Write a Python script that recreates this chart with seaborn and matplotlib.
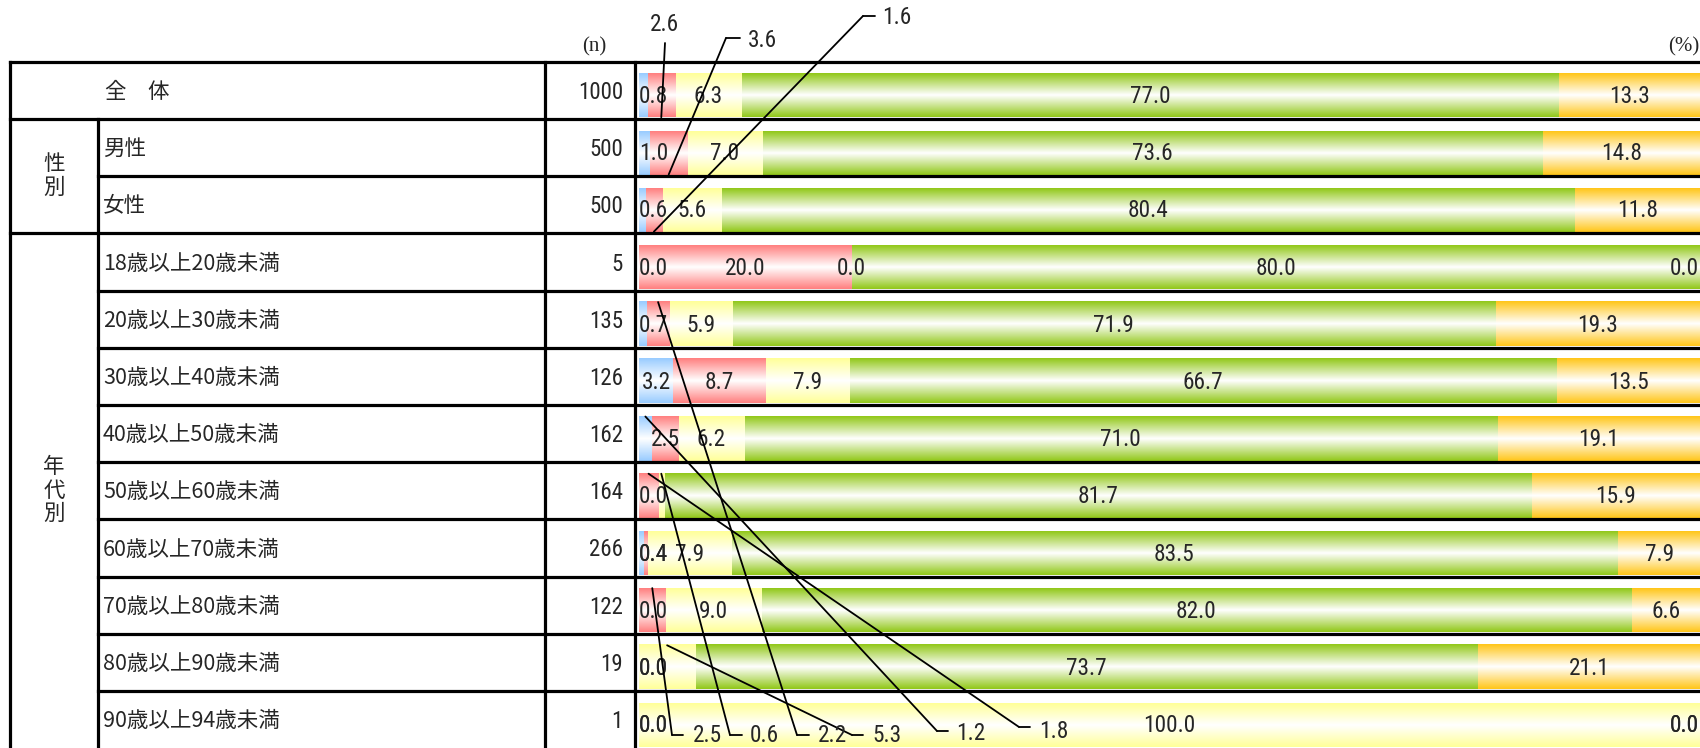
import numpy as np
import pandas as pd
import matplotlib
matplotlib.use("Agg")
import matplotlib.pyplot as plt
import seaborn as sns
from matplotlib import font_manager

# ---------------- data ----------------
rows = ["全　体", "男性", "女性",
        "18歳以上20歳未満", "20歳以上30歳未満", "30歳以上40歳未満",
        "40歳以上50歳未満", "50歳以上60歳未満", "60歳以上70歳未満",
        "70歳以上80歳未満", "80歳以上90歳未満", "90歳以上94歳未満"]
n_values = [1000, 500, 500, 5, 135, 126, 162, 164, 266, 122, 19, 1]
s1 = [0.8, 1.0, 0.6, 0.0, 0.7, 3.2, 1.2, 0.0, 0.4, 0.0, 0.0, 0.0]
s2 = [2.6, 3.6, 1.6, 20.0, 2.2, 8.7, 2.5, 1.8, 0.4, 2.5, 0.0, 0.0]
s3 = [6.3, 7.0, 5.6, 0.0, 5.9, 7.9, 6.2, 0.6, 7.9, 9.0, 5.3, 100.0]
s4 = [77.0, 73.6, 80.4, 80.0, 71.9, 66.7, 71.0, 81.7, 83.5, 82.0, 73.7, 0.0]
s5 = [13.3, 14.8, 11.8, 0.0, 19.3, 13.5, 19.1, 15.9, 7.9, 6.6, 21.1, 0.0]
series = [s1, s2, s3, s4, s5]
group_labels = [("性別", 1, 2), ("年代別", 3, 11)]

# ---------------- style ----------------
colors = ["#99CCFF", "#FF8080", "#FFFF99", "#92C81A", "#FFC61A"]
names = {f.name for f in font_manager.fontManager.ttflist}
NUM = "Roboto Condensed"
for cand in ["Roboto Condensed", "Archivo Narrow", "PT Sans Narrow", "Liberation Sans"]:
    if cand in names:
        NUM = cand
        break
JP = "Noto Sans CJK JP"
sns.set_theme(style="white")
plt.rcParams["font.family"] = [JP, "DejaVu Sans"]

W, H = 1700, 748
fig = plt.figure(figsize=(W / 100, H / 100), dpi=100)
TOP = 61.8
RH = 57.2
BX0, BX1 = 639, 1700
BAR_OFF = 33.5          # bar centre below row top
BAR_H = 44 / RH

ax_top = TOP + BAR_OFF - RH / 2
ax = fig.add_axes([BX0 / W, (H - (ax_top + 12 * RH)) / H, (BX1 - BX0) / W, 12 * RH / H])
ax.set_zorder(1)

# stacked bars via cumulative sums (largest first)
cum = np.cumsum(np.array(series), axis=0)
df = pd.DataFrame({"row": rows})
patches_by_layer = []
for k in range(4, -1, -1):
    df["v"] = cum[k]
    before = len(ax.patches)
    sns.barplot(data=df, x="v", y="row", order=rows, color=colors[k], orient="h",
                width=BAR_H, errorbar=None, ax=ax, saturation=1, linewidth=0)
    patches_by_layer.append((k, ax.patches[before:]))

# gradient overlay on each bar
tt = np.linspace(0, 1, 64)
prof = np.abs(tt - 0.5) * 2  # 1 at edges, 0 at middle
for order_i, (k, plist) in enumerate(patches_by_layer):
    c = np.array(matplotlib.colors.to_rgb(colors[k]))
    grad = (1 - prof)[:, None] * np.ones(3)[None, :] + prof[:, None] * c[None, :]
    img = grad[:, None, :]
    for p in plist:
        x0, y0, w, h = p.get_x(), p.get_y(), p.get_width(), p.get_height()
        if w <= 0:
            continue
        ax.imshow(img, extent=(x0, x0 + w, y0 + h, y0), aspect="auto",
                  interpolation="bilinear", zorder=3 + order_i)

ax.set_xlim(0, 100)
ax.set_ylim(11.5, -0.5)
ax.axis("off")

# overlay axes in pixel coordinates
ov = fig.add_axes([0, 0, 1, 1])
ov.set_xlim(0, W)
ov.set_ylim(H, 0)
ov.axis("off")
ov.set_zorder(2)
ov.patch.set_alpha(0)

LW = 2.3
XL, XS, XN, XB = 10, 98.5, 545, 635
lines = [((XL, W), (TOP, TOP))]
for i in range(1, 12):
    y = TOP + i * RH
    x_start = XL if i in (1, 3) else XS
    lines.append(((x_start, W), (y, y)))
lines += [((XL, XL), (TOP, H)), ((XS, XS), (TOP + RH, H)),
          ((XN, XN), (TOP, H)), ((XB, XB), (TOP, H))]
for xs, ys in lines:
    ov.plot(xs, ys, color="black", lw=LW, solid_capstyle="projecting", zorder=5)

# left table text
for i, (lab, n) in enumerate(zip(rows, n_values)):
    yc = TOP + i * RH + RH / 2 + 1.5
    if i == 0:
        ov.text(137, yc, lab, ha="center", va="center", fontsize=15.5, family=[JP])
    else:
        ov.text(103, yc, lab, ha="left", va="center", fontsize=15.5, family=[JP])
    ov.text(623, yc + 0.5, f"{n}", ha="right", va="center", fontsize=16.5, family=[NUM])
for lab, r0, r1 in group_labels:
    yc = TOP + (r0 + r1 + 1) / 2 * RH
    nch = len(lab)
    for j, ch in enumerate(lab):
        ov.text(54, yc + (j - (nch - 1) / 2) * 23.5, ch, ha="center", va="center",
                fontsize=15.5, family=[JP])
ov.text(594, 47, "(n)", ha="center", va="center", fontsize=15, family=["Liberation Serif"])
ov.text(1699, 47, "(%)", ha="right", va="center", fontsize=15, family=["Liberation Serif"])

# callout layout: (row, series) -> (text x, text y, elbow x, elbow y, leader end x, edge)
callouts = {
    (0, 1): (664, 24, 665, 43, None, "bottom"),
    (1, 1): (762, 40, 726, 38, 740, "bottom"),
    (2, 1): (897, 17, 863, 16, 875, "bottom"),
    (4, 1): (832, 735, 797, 735, 809, "top"),
    (6, 0): (971, 733, 937, 731, 948, "top"),
    (7, 1): (1054, 731, 1019, 727, 1030, "top"),
    (7, 2): (764, 735, 730, 735, 742, "top"),
    (9, 1): (707, 735, 672, 735, 683, "top"),
    (10, 2): (887, 735, 852, 735, 863, "top"),
}

FS = 16.8
fig.canvas.draw()
renderer = fig.canvas.get_renderer()
to_ov = ov.transData.inverted()
for i in range(len(rows)):
    left = 0.0
    for k in range(5):
        v = series[k][i]
        mid = left + v / 2
        if (i, k) in callouts:
            tx, ty, ex, ey, lx, edge = callouts[(i, k)]
            yb = i + BAR_H / 2 if edge == "bottom" else i - BAR_H / 2
            px, py = to_ov.transform(ax.transData.transform((mid, yb)))
            ov.plot([px, ex], [py, ey], color="black", lw=1.3, zorder=6)
            if lx is not None:
                ov.plot([ex, lx], [ey, ey], color="black", lw=1.3, zorder=6)
            ov.text(tx, ty, f"{v:.1f}", ha="center", va="center", fontsize=FS,
                    family=[NUM], zorder=7)
        else:
            t = ax.text(mid, i + 0.02, f"{v:.1f}", ha="center", va="center", fontsize=FS,
                        family=[NUM], zorder=20)
            bb = t.get_window_extent(renderer)
            xl = ax.transData.transform((0, 0))[0]
            xr = ax.transData.transform((100, 0))[0]
            if bb.x0 < xl:
                t.set_x(0.0)
                t.set_ha("left")
            elif bb.x1 > xr:
                t.set_x(99.9)
                t.set_ha("right")
        left += v

fig.savefig("out.png", dpi=100)
